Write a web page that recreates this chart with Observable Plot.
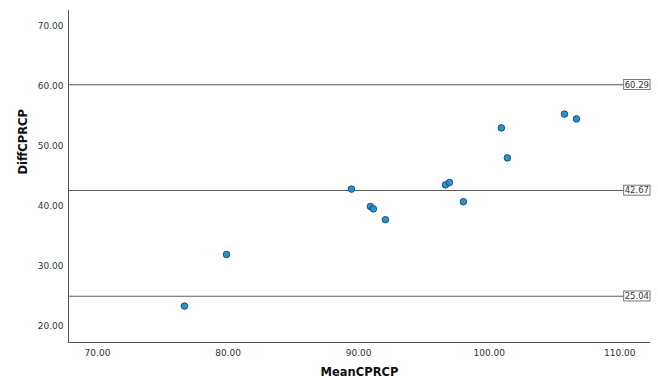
<!DOCTYPE html>
<html>
<head>
<meta charset="utf-8">
<script src="https://cdn.jsdelivr.net/npm/d3@7"></script>
<script src="https://cdn.jsdelivr.net/npm/@observablehq/plot@0.6"></script>
<style>
  html, body { margin: 0; padding: 0; background: #fff; }
  #chart svg { font-family: "DejaVu Sans", sans-serif; }
</style>
</head>
<body>
<div id="chart"></div>
<script>
const meanCPRCP = [76.66, 79.88, 89.45, 90.9, 91.13, 92.05, 96.65, 96.95, 98.02, 100.93, 101.39, 105.76, 106.68];
const diffCPRCP = [23.4, 32.0, 42.9, 40.0, 39.6, 37.8, 43.6, 44.0, 40.8, 53.1, 48.1, 55.4, 54.6];
const limitValues = [60.29, 42.67, 25.04];
const limitLabels = ["60.29", "42.67", "25.04"];
const xTicks = [70, 80, 90, 100, 110];
const yTicks = [20, 30, 40, 50, 60, 70];
const xDomain = [67.78, 112.35];
const yDomain = [17.33, 72.67];

const points = meanCPRCP.map((m, i) => ({ mean: m, diff: diffCPRCP[i] }));
const limits = limitValues.map((v, i) => ({ v, label: limitLabels[i] }));

const chart = Plot.plot({
  width: 658,
  height: 380,
  marginLeft: 68,
  marginRight: 8,
  marginTop: 10,
  marginBottom: 38,
  style: { fontFamily: "DejaVu Sans, sans-serif", background: "#fff" },
  x: { domain: xDomain },
  y: { domain: yDomain },
  marks: [
    Plot.ruleY(limits, { y: "v", stroke: "#595959", strokeWidth: 1 }),
    Plot.dot(points, { x: "mean", y: "diff", r: 3.3, fill: "#2393d6", stroke: "#1e3550", strokeWidth: 0.8 }),
    Plot.axisX({ ticks: xTicks, tickFormat: d => d.toFixed(2), tickSize: 0, tickPadding: 7, fontSize: 9, color: "#333", label: null }),
    Plot.axisY({ ticks: yTicks, tickFormat: d => d.toFixed(2), tickSize: 0, tickPadding: 5, fontSize: 9, color: "#333", label: null }),
    Plot.ruleX([xDomain[0]], { stroke: "#555", strokeWidth: 1 }),
    Plot.ruleY([yDomain[0]], { stroke: "#555", strokeWidth: 1 }),
    Plot.text(limits, { x: xDomain[1], y: "v", text: "label", textAnchor: "end", dx: -1.5, fontSize: 8.5, fill: "#333", className: "limit-label" }),
    Plot.text(["MeanCPRCP"], { frameAnchor: "bottom", text: d => d, dy: 30, lineAnchor: "middle", fontWeight: "bold", fontSize: 11.5, fill: "#111" }),
    Plot.text(["DiffCPRCP"], { frameAnchor: "left", text: d => d, rotate: -90, dx: -45, dy: -2, fontWeight: "bold", fontSize: 11.5, fill: "#111" })
  ]
});

document.getElementById("chart").appendChild(chart);

// draw boxes behind the limit labels
d3.select(chart).selectAll("g.limit-label text").each(function () {
  const bb = this.getBBox();
  const t = this.getAttribute("transform");
  const rect = document.createElementNS("http://www.w3.org/2000/svg", "rect");
  rect.setAttribute("x", bb.x - 1);
  rect.setAttribute("y", bb.y);
  rect.setAttribute("width", bb.width + 2);
  rect.setAttribute("height", bb.height);
  rect.setAttribute("fill", "#fff");
  rect.setAttribute("stroke", "#777");
  rect.setAttribute("stroke-width", "1");
  if (t) rect.setAttribute("transform", t);
  this.parentNode.insertBefore(rect, this);
});
</script>
</body>
</html>
